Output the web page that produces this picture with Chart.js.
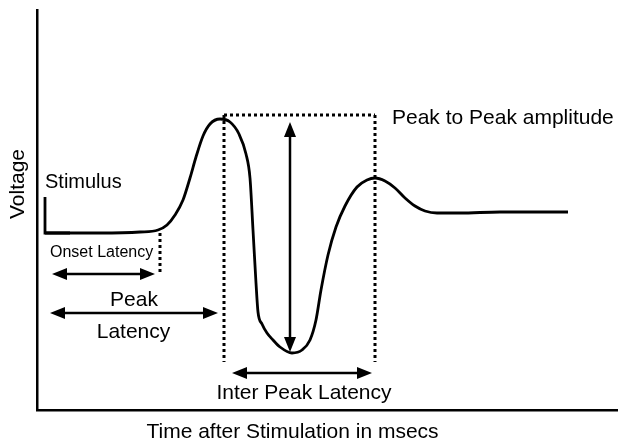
<!DOCTYPE html>
<html>
<head>
<meta charset="utf-8">
<script src="https://cdn.jsdelivr.net/npm/chart.js@4/dist/chart.umd.min.js"></script>
<style>
  html, body { margin: 0; padding: 0; background: #fff; }
</style>
</head>
<body>
<canvas id="chart" width="619" height="446"></canvas>
<script>
// ---------------- DATA ----------------
// waveform (time units / voltage units)
const waveX = [0.8, 3.3, 6.3, 10.3, 12.1, 13.0, 13.8, 14.6, 15.3, 15.9, 16.6, 17.3, 18.3,
               19.3, 20.2, 20.9, 21.3, 21.6, 21.9, 22.1, 22.5, 23.0, 23.6, 24.3, 25.5, 26.5,
               27.3, 27.9, 28.4, 29.1, 29.9, 30.8, 32.0, 33.0, 33.8, 34.8, 35.8, 36.8,
               37.8, 38.8, 40.0, 42.3, 46.3, 53.1];
const waveY = [17.7, 17.7, 17.7, 17.8, 18.0, 18.5, 19.5, 21.0, 23.2, 25.3, 27.4, 28.6, 29.1,
               28.8, 27.6, 25.6, 23.2, 18.0, 12.7, 9.8, 8.6, 7.7, 7.0, 6.3, 5.7, 6.0,
               7.0, 9.0, 12.0, 15.5, 18.3, 20.4, 22.3, 23.0, 23.2, 22.9, 22.2, 21.2,
               20.4, 19.9, 19.7, 19.7, 19.8, 19.8];

// stimulus marker
const stimX = [0.8, 0.8, 3.3];
const stimY = [21.3, 17.7, 17.7];

// dotted guides: [x1, y1, x2, y2]
const guides = [
    [12.3, 17.7, 12.3, 13.5],   // onset
    [18.7, 29.5, 33.8, 29.5],   // top of box
    [18.7, 29.5, 18.7, 4.8],    // first peak
    [33.8, 29.5, 33.8, 4.8]     // second peak
];

// double headed arrows: [x1, y1, x2, y2]
const arrows = [
    [1.5, 13.6, 11.8, 13.6],    // onset latency
    [1.3, 9.7, 18.1, 9.7],      // peak latency
    [25.3, 28.8, 25.3, 5.8],    // peak to peak amplitude
    [19.5, 3.7, 33.5, 3.7]      // inter peak latency
];

// labels: [text, x, y, size, align, rotation]
const labels = [
    ["Stimulus", 0.8, 22.8, 20, "left", 0],
    ["Onset Latency", 1.3, 15.7, 16, "left", 0],
    ["Peak", 9.7, 11.0, 21, "center", 0],
    ["Latency", 9.65, 7.8, 21, "center", 0],
    ["Peak to Peak amplitude", 35.5, 29.2, 21, "left", 0],
    ["Inter Peak Latency", 26.7, 1.7, 21, "center", 0],
    ["Time after Stimulation in msecs", 25.55, -2.2, 21, "center", 0],
    ["Voltage", -1.9, 22.6, 21, "center", -90]
];

const FONT = "'Liberation Sans', Arial, Helvetica, sans-serif";

// ---------------- ANNOTATIONS ----------------
function arrowHead(ctx, x, y, ang) {
    const len = 15, half = 6;
    ctx.beginPath();
    ctx.moveTo(x, y);
    ctx.lineTo(x - len * Math.cos(ang) + half * Math.sin(ang), y - len * Math.sin(ang) - half * Math.cos(ang));
    ctx.lineTo(x - len * Math.cos(ang) - half * Math.sin(ang), y - len * Math.sin(ang) + half * Math.cos(ang));
    ctx.closePath();
    ctx.fill();
}

const annotate = {
    id: "annotate",
    afterDatasetsDraw(chart) {
        const ctx = chart.ctx;
        const xs = chart.scales.x, ys = chart.scales.y;
        const px = v => xs.getPixelForValue(v);
        const py = v => ys.getPixelForValue(v);

        ctx.save();
        ctx.strokeStyle = "#000";
        ctx.fillStyle = "#000";

        // dotted lines
        ctx.lineWidth = 3;
        ctx.setLineDash([3, 3]);
        guides.forEach(g => {
            ctx.beginPath();
            ctx.moveTo(px(g[0]), py(g[1]));
            ctx.lineTo(px(g[2]), py(g[3]));
            ctx.stroke();
        });
        ctx.setLineDash([]);

        // arrows
        ctx.lineWidth = 2.5;
        arrows.forEach(a => {
            const x1 = px(a[0]), y1 = py(a[1]), x2 = px(a[2]), y2 = py(a[3]);
            const ang = Math.atan2(y2 - y1, x2 - x1);
            ctx.beginPath();
            ctx.moveTo(x1 + 8 * Math.cos(ang), y1 + 8 * Math.sin(ang));
            ctx.lineTo(x2 - 8 * Math.cos(ang), y2 - 8 * Math.sin(ang));
            ctx.stroke();
            arrowHead(ctx, x2, y2, ang);
            arrowHead(ctx, x1, y1, ang + Math.PI);
        });

        // text
        ctx.textBaseline = "middle";
        labels.forEach(l => {
            ctx.save();
            ctx.font = l[3] + "px " + FONT;
            ctx.textAlign = l[4];
            ctx.translate(px(l[1]), py(l[2]));
            ctx.rotate(l[5] * Math.PI / 180);
            ctx.fillText(l[0], 0, 0);
            ctx.restore();
        });
        ctx.restore();
    }
};

// ---------------- DRAW CHART ----------------
new Chart(document.getElementById("chart"), {
    type: "scatter",
    data: {
        datasets: [
            {
                data: waveX.map((x, i) => ({ x: x, y: waveY[i] })),
                showLine: true,
                borderColor: "#000",
                borderWidth: 2.8,
                pointRadius: 0,
                cubicInterpolationMode: "monotone"
            },
            {
                data: stimX.map((x, i) => ({ x: x, y: stimY[i] })),
                showLine: true,
                borderColor: "#000",
                borderWidth: 2.8,
                pointRadius: 0,
                tension: 0
            }
        ]
    },
    options: {
        responsive: false,
        animation: false,
        devicePixelRatio: 1,
        layout: { padding: { left: 37, right: 2, top: 10, bottom: 36 } },
        plugins: { legend: { display: false }, tooltip: { enabled: false } },
        scales: {
            x: {
                type: "linear", min: 0, max: 58,
                grid: { display: false, drawTicks: false },
                border: { display: true, color: "#000", width: 2.5 },
                ticks: { display: false }
            },
            y: {
                type: "linear", min: 0, max: 40,
                grid: { display: false, drawTicks: false },
                border: { display: true, color: "#000", width: 2.5 },
                ticks: { display: false }
            }
        }
    },
    plugins: [annotate]
});
</script>
</body>
</html>
